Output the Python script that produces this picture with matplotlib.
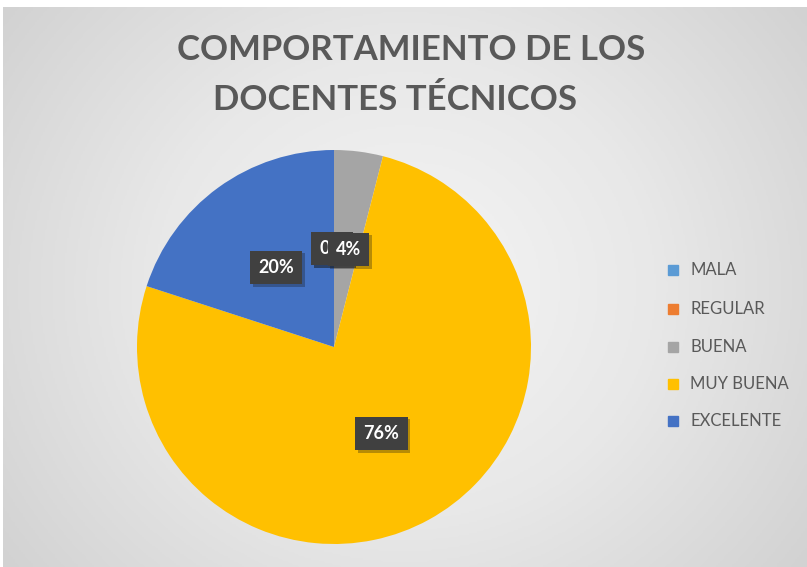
import numpy as np
import matplotlib

matplotlib.use("Agg")
import matplotlib.pyplot as plt
import matplotlib.patheffects as pe
from matplotlib.colors import LinearSegmentedColormap

# Data
categories = ["MALA", "REGULAR", "BUENA", "MUY BUENA", "EXCELENTE"]
percent = [0, 0, 4, 76, 20]
colors = ["#5B9BD5", "#ED7D31", "#A5A5A5", "#FFC000", "#4472C4"]

W, H = 807, 567
fig = plt.figure(figsize=(W / 100, H / 100), dpi=100)
fig.patch.set_facecolor("white")

# Radial gradient background
bg = fig.add_axes([3 / W, 0, 1 - 3 / W, 1 - 7 / H])
yy, xx = np.mgrid[-1:1:300j, -1:1:400j]
rr = np.sqrt(xx ** 2 + (yy * 0.75) ** 2)
grad = LinearSegmentedColormap.from_list("g", ["#f5f5f5", "#e8e8e8", "#d2d2d2"])
bg.imshow(rr, cmap=grad, vmin=0, vmax=1.25, aspect="auto",
          extent=[0, 1, 0, 1])
bg.set_axis_off()

plt.rcParams["font.family"] = ["Lato", "DejaVu Sans"]

# Pie
cx, cy, r = 334, H - 347, 197
ax = fig.add_axes([(cx - r) / W, (cy - r) / H, 2 * r / W, 2 * r / H])
wedges, _ = ax.pie(percent, colors=colors, startangle=90, counterclock=False,
                   radius=1.0, wedgeprops=dict(linewidth=0))
ax.set_xlim(-1, 1)
ax.set_ylim(-1, 1)
ax.set_aspect("equal")
ax.set_axis_off()

# Data labels (Excel-like dark boxes)
total = sum(percent)
angle = 90.0
label_pos = []
for p in percent:
    span = 360.0 * p / total
    mid = np.deg2rad(angle - span / 2)
    label_pos.append((0.5 * np.cos(mid), 0.5 * np.sin(mid)))
    angle -= span

nudge = {0: -0.01, 1: -0.01, 2: 0.01}
order = [0, 1, 3, 4, 2]
for z, i in enumerate(order):
    x, y = label_pos[i]
    x += nudge.get(i, 0)
    t = ax.text(x, y, f"{percent[i]}%", ha="center", va="center", fontsize=13,
                fontweight="bold", color="white",
                bbox=dict(boxstyle="square,pad=0.45", fc="#404040", ec="none"),
                zorder=10 + z)
    t.get_bbox_patch().set_path_effects(
        [pe.SimplePatchShadow(offset=(2, -2), alpha=0.3), pe.Normal()])

# Title
fig.text(411 / W, 1 - 50 / H, "COMPORTAMIENTO DE LOS", ha="center", va="center",
         fontsize=25, fontweight="bold", color="#595959")
fig.text(395 / W, 1 - 100 / H, "DOCENTES TÉCNICOS", ha="center", va="center",
         fontsize=25, fontweight="bold", color="#595959")

# Legend
leg_y = [270, 309, 347, 384, 421]
for name, col, ly in zip(categories, colors, leg_y):
    fig.patches.append(plt.Rectangle((668 / W, (H - ly - 5) / H), 10 / W, 10 / H,
                                     transform=fig.transFigure, color=col,
                                     figure=fig))
    fig.text(690 / W, 1 - ly / H, name, ha="left", va="center", fontsize=12,
             color="#595959")

fig.savefig("out.png", dpi=100)
